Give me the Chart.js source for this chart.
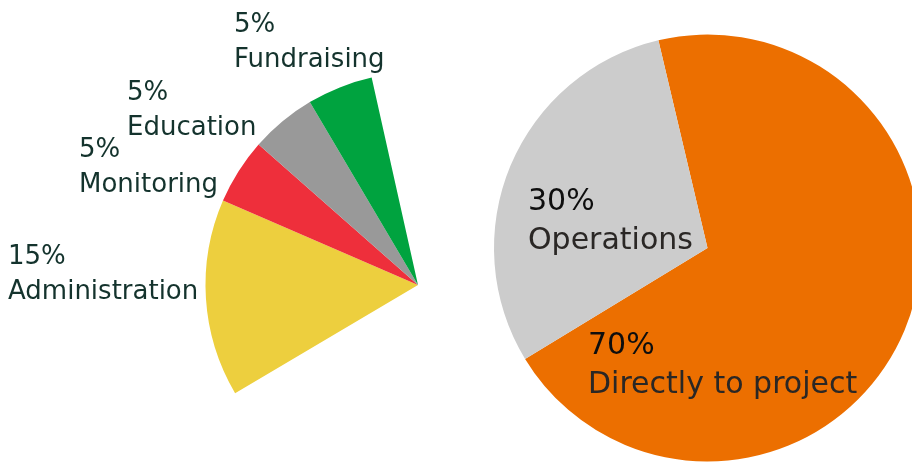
<!DOCTYPE html>
<html>
<head>
<meta charset="utf-8">
<script src="https://cdn.jsdelivr.net/npm/chart.js@4.4.1/dist/chart.umd.min.js"></script>
<style>
  html, body { margin: 0; padding: 0; background: #fff; overflow: hidden; }
  .stage { position: relative; width: 912px; height: 462px; overflow: hidden; }
  .stage canvas { position: absolute; left: 0; top: 0; }
</style>
</head>
<body>
<div class="stage">
  <canvas id="mainPie" width="960" height="500"></canvas>
  <canvas id="splitPie" width="960" height="500"></canvas>
</div>
<script>
// overall split
const mainLabels = ['Directly to project', 'Operations'];
const mainValues = [70, 30];
const mainColors = ['#ec6f00', '#cccccc'];

// breakdown of operations
const splitLabels = ['Administration', 'Monitoring', 'Education', 'Fundraising'];
const splitValues = [15, 5, 5, 5];
const splitColors = ['#edcf3e', '#ee2f3b', '#999999', '#00a33f'];

const CANVAS_W = 960;
const CANVAS_H = 500;

// chart area padding so that the pie lands at a given center / radius
function padFor(cx, cy, r) {
  return {
    left: cx - r,
    top: cy - r,
    right: CANVAS_W - (cx + r),
    bottom: CANVAS_H - (cy + r),
  };
}

// draws two-line labels (percent + name) at fixed text positions
const labelPlugin = {
  id: 'pieLabels',
  afterDraw(chart, args, opts) {
    const ctx = chart.ctx;
    const ds = chart.data.datasets[0];
    ctx.save();
    ctx.textAlign = 'left';
    ctx.textBaseline = 'alphabetic';
    ctx.font = opts.font;
    opts.items.forEach((item) => {
      const i = item.index;
      ctx.fillStyle = opts.percentColor;
      ctx.fillText(ds.data[i] + '%', item.x, item.y);
      ctx.fillStyle = opts.color;
      ctx.fillText(chart.data.labels[i], item.x, item.y + opts.lineGap);
    });
    ctx.restore();
  },
};

const baseOptions = {
  responsive: false,
  animation: false,
  events: [],
  plugins: {
    legend: { display: false },
    tooltip: { enabled: false },
  },
};

new Chart(document.getElementById('mainPie'), {
  type: 'pie',
  data: {
    labels: mainLabels,
    datasets: [{
      data: mainValues,
      backgroundColor: mainColors,
      borderWidth: 0,
      hoverOffset: 0,
    }],
  },
  options: {
    ...baseOptions,
    rotation: -13.3,
    layout: { padding: padFor(707.5, 248, 213.5) },
    plugins: {
      ...baseOptions.plugins,
      pieLabels: {
        font: '30px "DejaVu Sans"',
        percentColor: '#0e0e0e',
        color: '#2a2725',
        lineGap: 39,
        items: [
          { index: 1, x: 528, y: 210 },
          { index: 0, x: 588, y: 354 },
        ],
      },
    },
  },
  plugins: [labelPlugin],
});

// the rest of the circle is left empty
const restShare = 100 - splitValues.reduce((a, b) => a + b, 0);

new Chart(document.getElementById('splitPie'), {
  type: 'pie',
  data: {
    labels: [...splitLabels, ''],
    datasets: [{
      data: [...splitValues, restShare],
      backgroundColor: [...splitColors, 'rgba(0,0,0,0)'],
      borderWidth: 0,
      hoverOffset: 0,
    }],
  },
  options: {
    ...baseOptions,
    rotation: 239.4,
    layout: { padding: padFor(418, 285, 212.5) },
    plugins: {
      ...baseOptions.plugins,
      pieLabels: {
        font: '26px "DejaVu Sans"',
        percentColor: '#14332d',
        color: '#14332d',
        lineGap: 35,
        items: [
          { index: 0, x: 8, y: 264 },
          { index: 1, x: 79, y: 157 },
          { index: 2, x: 127, y: 100 },
          { index: 3, x: 234, y: 32 },
        ],
      },
    },
  },
  plugins: [labelPlugin],
});
</script>
</body>
</html>
